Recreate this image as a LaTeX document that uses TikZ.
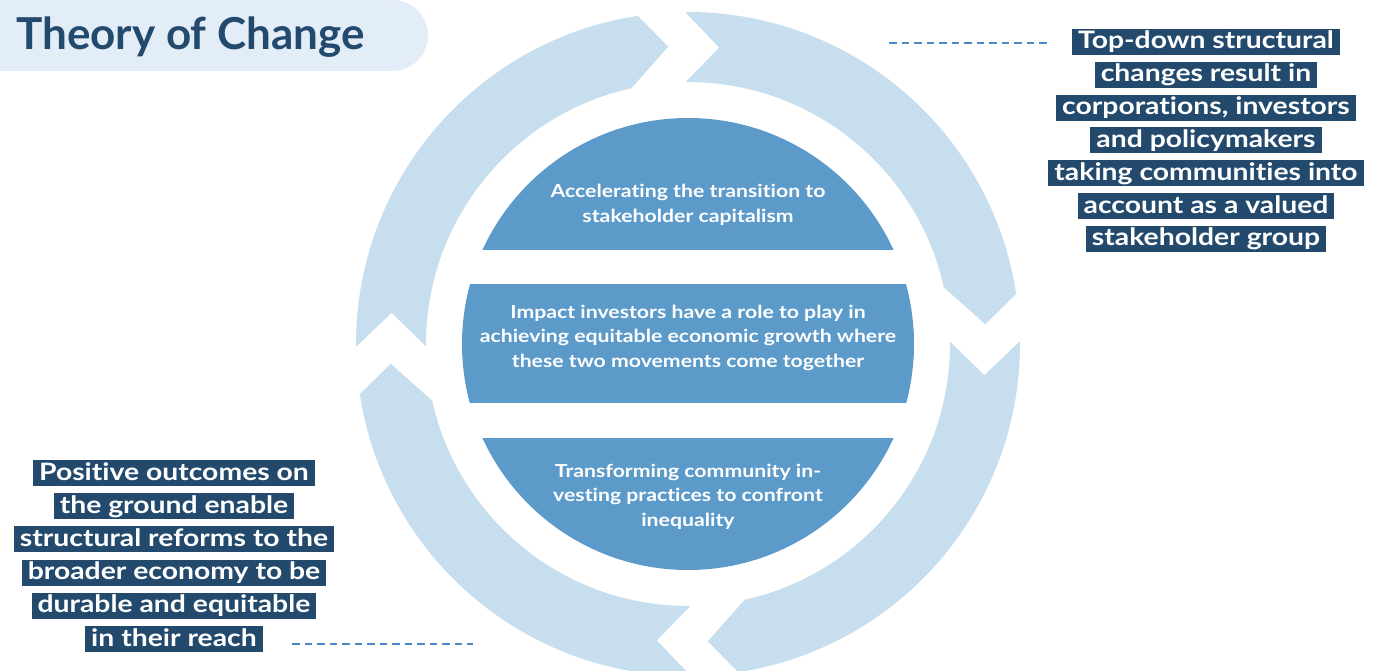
\documentclass[tikz,border=0pt]{standalone}
\usepackage{fontspec}
\setmainfont{Lato}[Ligatures=NoCommon]
\newfontfamily\widefont{Lato}[FakeStretch=1.18, Ligatures=NoCommon]
\definecolor{ringblue}{HTML}{C7DEEE}
\definecolor{discblue}{HTML}{5B9AC9}
\definecolor{navy}{HTML}{234A6D}
\definecolor{titlebg}{HTML}{E2EDF7}
\definecolor{dashblue}{HTML}{4A88C6}
\begin{document}
\begin{tikzpicture}[x=1pt,y=-1pt,
  ringarrow/.style={fill=ringblue},
  band/.style={fill=discblue},
  disctext/.style={text=white, align=center, inner sep=0pt,
    font=\widefont\bfseries\fontsize{18}{24.5}\selectfont},
  lbl/.style={fill=navy, text=white, anchor=base,
    font=\widefont\bfseries\fontsize{24}{24}\selectfont,
    text height=19pt, text depth=5pt, inner ysep=1pt, inner xsep=6pt},
  leader/.style={draw=dashblue, line width=2.6pt, dash pattern=on 7.5pt off 5pt}]
\useasboundingbox (0,0) rectangle (1375,671);

% title tab
\fill[titlebg] (0,0) -- (392.5,0) arc[start angle=-90, end angle=90, radius=35.5] -- (0,71) -- cycle;
\node[anchor=base west, inner sep=0pt, text=navy,
  font=\bfseries\fontsize{44}{44}\selectfont] (title) at (16,50) {Theory of Change};

% cycle of four curved arrows, running clockwise
\begin{scope}[shift={(688,344)}, x=1pt, y=1pt]
  \foreach \a/\b in {90/0, 0/-90, -90/-180, 180/90}{
    \fill[ringarrow] ({\a+0.5}:332) -- ({\a-6}:298) -- ({\a+0.5}:262)
      arc[start angle={\a+0.5}, end angle={\b+12.5}, radius=262]
      -- ({\b+3.8}:298) -- ({\b+8.7}:332)
      arc[start angle={\b+8.7}, end angle={\a+0.5}, radius=332] -- cycle;
  }
\end{scope}

% central disc cut into three bands
\begin{scope}
  \clip (688,344) circle[radius=226];
  \fill[band] (440,100) rectangle (940,250);
  \fill[band] (440,284) rectangle (940,403);
  \fill[band] (440,438) rectangle (940,590);
\end{scope}

\node[disctext] (top) at (688,205) {Accelerating the transition to\\stakeholder capitalism};
\node[disctext] (mid) at (688,337.5) {Impact investors have a role to play in\\achieving equitable economic growth where\\these two movements come together};
\node[disctext] (bot) at (688,496.5) {Transforming community in-\\vesting practices to confront\\inequality};

% right-hand outcome
\node[lbl] (r1) at (1206,49) {Top-down structural};
\node[lbl] (r2) at (1206,81.8) {changes result in};
\node[lbl] (r3) at (1206,114.6) {corporations, investors};
\node[lbl] (r4) at (1206,147.4) {and policymakers};
\node[lbl] (r5) at (1206,180.2) {taking communities into};
\node[lbl] (r6) at (1206,213) {account as a valued};
\node[lbl] (r7) at (1206,245.8) {stakeholder group};

% left-hand outcome
\node[lbl] (l1) at (174,480) {Positive outcomes on};
\node[lbl] (l2) at (174,513.2) {the ground enable};
\node[lbl] (l3) at (174,546.4) {structural reforms to the};
\node[lbl] (l4) at (174,579.6) {broader economy to be};
\node[lbl] (l5) at (174,612.8) {durable and equitable};
\node[lbl] (l6) at (174,646) {in their reach};

% dashed leaders
\coordinate (ra) at (889,43);
\coordinate (rb) at (1048,43);
\coordinate (la) at (292,644);
\coordinate (lb) at (473,644);
\draw[leader] (ra) -- (rb);
\draw[leader] (la) -- (lb);
\end{tikzpicture}
\end{document}
